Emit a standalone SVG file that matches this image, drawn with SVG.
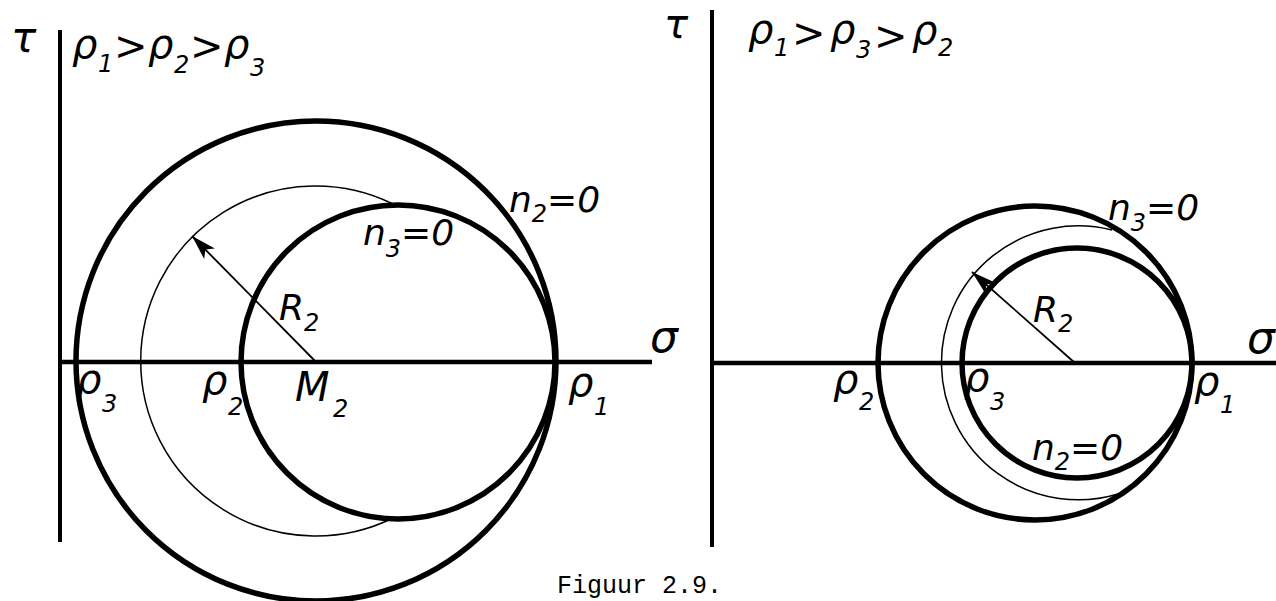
<svg xmlns="http://www.w3.org/2000/svg" width="1276" height="601" viewBox="0 0 1276 601">
<style>
.bg{fill:#fff}
.axis{stroke:#000;stroke-width:4.5;fill:none;stroke-linecap:butt}
.vaxis{stroke:#000;stroke-width:4;fill:none}
.thick{stroke:#000;stroke-width:5.5;fill:none}
.thin{stroke:#000;stroke-width:1.5;fill:none}
.rad{stroke:#000;stroke-width:1.8;fill:none}
.t{font-family:"DejaVu Sans","Liberation Sans",sans-serif;font-style:italic;fill:#000}
.big{font-size:40px}
.lab{font-size:36px}
.sub{font-size:24px}
.cap{font-family:"Liberation Mono","DejaVu Sans Mono",monospace;font-size:25px;fill:#000}
</style>
<defs>
<marker id="ah" markerUnits="userSpaceOnUse" markerWidth="26" markerHeight="15" refX="25" refY="7.5" orient="auto">
<path d="M0,0 L25,7.5 L0,15 L6,7.5 z" fill="#000"/>
</marker>
</defs>
<rect class="bg" x="0" y="0" width="1276" height="601"/>

<g id="left-panel">
<g id="left-axes">
<line class="vaxis" x1="60" y1="30" x2="60" y2="542"/>
<line class="axis" x1="58" y1="362" x2="652" y2="362"/>
</g>
<g id="left-circles">
<circle id="L-n2" class="thick" cx="316" cy="361" r="240"/>
<circle id="L-n3" class="thick" cx="398" cy="362" r="157"/>
<path id="L-thin" class="thin" d="M393,204 A175,175 0 1,0 393,518"/>
<line id="L-R2" class="rad" x1="316" y1="362" x2="192" y2="236" marker-end="url(#ah)"/>
</g>
<g id="left-labels">
<text class="t" x="11" y="52" font-size="42">τ</text>
<text class="t big" y="58"><tspan x="72">ρ</tspan><tspan class="sub" x="98" y="72">1</tspan><tspan x="114" y="60">&gt;</tspan><tspan x="148" y="58">ρ</tspan><tspan class="sub" x="174" y="73">2</tspan><tspan x="190" y="60">&gt;</tspan><tspan x="224" y="58">ρ</tspan><tspan class="sub" x="250" y="76">3</tspan></text>
<text class="t" x="650" y="352" font-size="44">σ</text>
<text class="t lab" x="509" y="212">n<tspan class="sub" y="222">2</tspan><tspan y="212">=0</tspan></text>
<text class="t lab" x="363" y="245">n<tspan class="sub" y="257">3</tspan><tspan y="245">=0</tspan></text>
<text class="t lab" x="279" y="320">R<tspan class="sub" y="331">2</tspan></text>
<text class="t big" x="76" y="393">ρ<tspan class="sub" x="102" y="412">3</tspan></text>
<text class="t big" x="202" y="394">ρ<tspan class="sub" x="228" y="415">2</tspan></text>
<text class="t big" x="295" y="401">M<tspan class="sub" x="333" y="417">2</tspan></text>
<text class="t big" x="568" y="396">ρ<tspan class="sub" x="594" y="415">1</tspan></text>
</g>
</g>

<g id="right-panel">
<g id="right-axes">
<line class="vaxis" x1="712" y1="10" x2="712" y2="547"/>
<line class="axis" x1="710" y1="363" x2="1276" y2="363"/>
</g>
<g id="right-circles">
<circle id="R-n3" class="thick" cx="1035" cy="363" r="157"/>
<circle id="R-n2" class="thick" cx="1077" cy="363" r="115"/>
<path id="R-thin" class="thin" d="M1112,230 A137,137 0 1,0 1118,494"/>
<line id="R-R2" class="rad" x1="1075" y1="363" x2="972" y2="272" marker-end="url(#ah)"/>
</g>
<g id="right-labels">
<text class="t" x="664" y="38" font-size="40">τ</text>
<text class="t big" y="43"><tspan x="748">ρ</tspan><tspan class="sub" x="774" y="56">1</tspan><tspan x="792" y="47">&gt;</tspan><tspan x="830" y="43">ρ</tspan><tspan class="sub" x="856" y="58">3</tspan><tspan x="874" y="50">&gt;</tspan><tspan x="912" y="44">ρ</tspan><tspan class="sub" x="938" y="56">2</tspan></text>
<text class="t" x="1247" y="353" font-size="44">σ</text>
<text class="t lab" x="1108" y="220">n<tspan class="sub" y="231">3</tspan><tspan y="220">=0</tspan></text>
<text class="t lab" x="1032" y="460">n<tspan class="sub" y="470">2</tspan><tspan y="460">=0</tspan></text>
<text class="t lab" x="1033" y="322">R<tspan class="sub" y="332">2</tspan></text>
<text class="t big" x="833" y="393">ρ<tspan class="sub" x="859" y="410">2</tspan></text>
<text class="t big" x="964" y="391">ρ<tspan class="sub" x="990" y="410">3</tspan></text>
<text class="t big" x="1194" y="395">ρ<tspan class="sub" x="1220" y="413">1</tspan></text>
</g>
</g>

<g id="caption">
<text class="cap" x="557" y="593">Figuur 2.9.</text>
</g>
</svg>
